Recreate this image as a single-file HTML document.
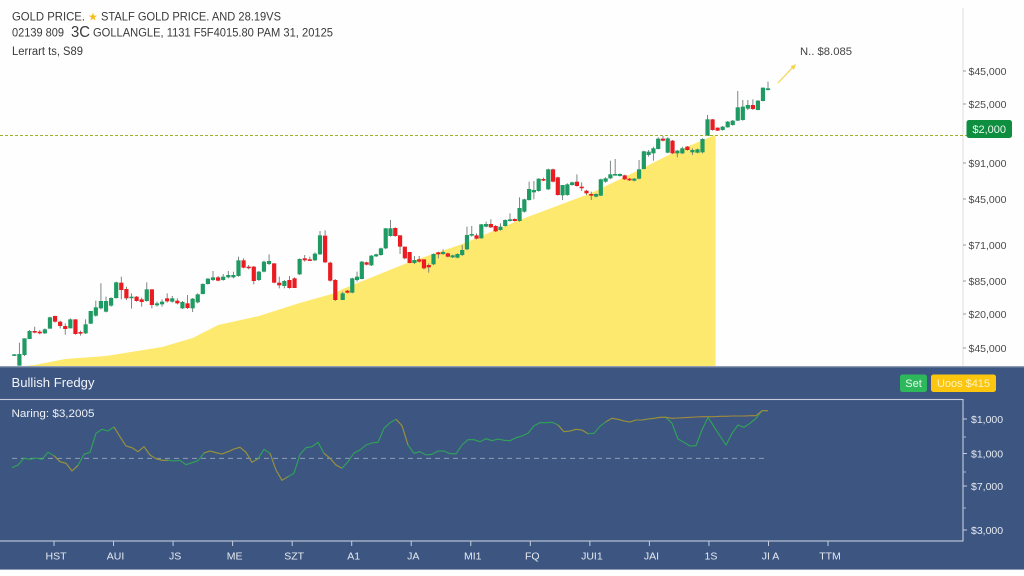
<!DOCTYPE html>
<html lang="en">
<head>
<meta charset="utf-8">
<title>Gold price chart</title>
<style>
html,body{margin:0;padding:0;background:#fff;width:1024px;height:576px;overflow:hidden}
svg{display:block;font-family:"Liberation Sans",sans-serif;filter:blur(0.35px)}
</style>
</head>
<body>
<svg id="chart" width="1024" height="576" viewBox="0 0 1024 576" xmlns="http://www.w3.org/2000/svg">
  <rect x="0" y="0" width="1024" height="576" fill="#fefefe"/>
  <g id="area-layer"></g>
  <line x1="963" y1="8" x2="963" y2="366" stroke="#dedede" stroke-width="1"/>
  <g id="candle-layer"></g>
  <g id="price-level-layer"></g>
  <g id="price-axis-layer"></g>

  <g fill="#3a3a3a">
    <text x="12" y="20.5" font-size="12" textLength="73" lengthAdjust="spacingAndGlyphs">GOLD PRICE.</text>
    <text x="88" y="20.5" font-size="11" fill="#f7bd16" font-family="'DejaVu Sans',sans-serif">★</text>
    <text x="101" y="20.5" font-size="12" textLength="180" lengthAdjust="spacingAndGlyphs">STALF GOLD PRICE. AND 28.19VS</text>
    <text x="12" y="36.5" font-size="11.5" textLength="52" lengthAdjust="spacingAndGlyphs">02139 809</text>
    <text x="71" y="37" font-size="15.5" textLength="19" lengthAdjust="spacingAndGlyphs">3C</text>
    <text x="93" y="36.5" font-size="11.5" textLength="240" lengthAdjust="spacingAndGlyphs">GOLLANGLE, 1131 F5F4015.80 PAM 31, 20125</text>
    <text x="12" y="55" font-size="11.5" textLength="71" lengthAdjust="spacingAndGlyphs">Lerrart ts, S89</text>
  </g>

  <g>
    <text x="800" y="55" font-size="11" fill="#444" textLength="52" lengthAdjust="spacingAndGlyphs">N.. $8.085</text>
    <line x1="778" y1="83" x2="794" y2="66" stroke="#f4d54a" stroke-width="1.2"/>
    <polygon points="796,64 790.5,66.5 794,70" fill="#f4d54a"/>
  </g>

  <rect x="0" y="367" width="1024" height="202" fill="#3d5681"/>
  <rect x="0" y="366" width="1024" height="1.4" fill="#8d9cb4"/>
  <rect x="0" y="569" width="1024" height="1" fill="#8d9cb4"/>
  <text x="11.5" y="387" font-size="12.5" fill="#f2f4f8" textLength="83" lengthAdjust="spacingAndGlyphs">Bullish Fredgy</text>
  <g>
    <rect x="900" y="374.5" width="27" height="17.5" rx="2.5" fill="#2eb85c"/>
    <text x="913.5" y="387" font-size="11" fill="#e8f8ee" text-anchor="middle">Set</text>
  </g>
  <g>
    <rect x="931" y="374.5" width="65" height="17.5" rx="2.5" fill="#fcc60e"/>
    <text x="963.5" y="387" font-size="11" fill="#fff3c0" text-anchor="middle" textLength="53" lengthAdjust="spacingAndGlyphs">Uoos $415</text>
  </g>
  <rect x="-2" y="399.5" width="965" height="141.5" fill="none" stroke="#c6cedb" stroke-width="1.1"/>
  <text x="11.5" y="417" font-size="11" fill="#eef1f6" textLength="83" lengthAdjust="spacingAndGlyphs">Naring: $3,2005</text>
  <g id="indicator-layer"></g>
  <g id="indicator-axis-layer"></g>
  <g id="time-axis-layer"></g>
</svg>

<script>
// Candlestick series
const opens = [33,1,33,81,105,103,98,112,150,133,120,113,140,102,98,127,151,173,163,181,204,250,231,204,208,200,195,230,182,185,203,193,196,173,188,173,191,216,246,258,266,258,266,266,270,317,298,298,258,283,306,308,250,240,258,263,275,323,320,317,335,391,310,258,
  198,226,220,258,261,311,302,329,333,353,390,414,392,358,342,309,320,320,303,305,341,336,338,326,325,333,350,392,392,383,418,426,420,408,420,435,441,435,463,498,521,525,561,530,590,566,512,513,543,553,538,526,516,508,511,553,563,573,570,572,562,556,562,591,633,638,651,682,640,676,638,
  638,658,641,640,641,690,740,715,708,716,723,736,738,772,783,768,795,828];
const closes = [35,36,83,105,101,98,110,146,133,120,111,140,96,98,125,165,176,195,195,204,251,228,203,208,195,192,230,183,188,193,194,203,188,192,174,202,215,246,262,266,256,268,273,273,317,295,294,255,283,313,315,250,242,255,234,234,321,317,318,337,392,311,256,198,
  218,220,263,268,313,304,331,335,353,413,413,390,358,323,309,318,313,293,296,336,335,342,328,332,336,348,393,396,382,425,426,416,404,418,438,440,435,474,500,531,528,562,558,590,553,513,543,545,551,540,536,518,511,516,560,563,575,576,576,560,557,562,590,644,643,653,682,676,683,638,646,
  653,648,648,650,681,740,708,706,718,733,736,776,778,783,771,796,835,833];
const highs = [36,70,83,108,118,108,113,148,151,136,128,143,140,106,140,165,196,248,208,206,253,268,238,218,210,205,251,230,193,200,218,210,203,195,213,204,218,248,264,285,270,276,285,283,328,323,303,300,285,316,335,308,268,258,270,266,323,333,328,341,405,407,313,261,
  223,228,265,283,315,313,333,337,355,414,438,416,392,358,342,330,330,320,308,338,343,350,340,334,338,363,418,420,398,426,433,440,423,428,440,458,443,506,502,553,555,563,565,592,592,568,543,548,553,575,551,528,523,518,562,566,616,621,578,574,564,564,618,646,648,658,686,690,686,678,648,
  658,660,653,652,683,753,741,716,720,735,738,825,798,798,800,798,836,853];
const lows = [31,1,30,81,98,95,96,112,130,113,94,113,94,91,96,126,148,170,161,178,202,200,198,172,193,178,193,173,178,178,190,190,185,171,171,162,188,215,244,255,254,256,263,263,268,293,290,245,255,281,303,248,233,233,232,234,273,313,315,315,333,309,253,195,
  198,218,218,253,260,302,300,327,331,351,388,388,336,320,308,306,310,290,280,303,323,333,326,324,323,330,348,388,380,382,416,414,402,406,418,433,433,433,460,496,500,523,555,528,551,511,498,511,541,538,525,513,498,506,510,550,561,571,568,558,555,554,560,590,628,616,650,674,638,636,626,
  636,646,633,638,638,690,706,705,706,715,721,735,736,768,768,767,794,826];

// Piecewise session axis: trading index -> chart position
const sessionDomain = [0,63,64,134,152];
const sessionRange = [14.3,335.3,342.7,677.3,768];

// Yellow area series
const areaSessions = [2,4,10,18,29,35,40,48,56,63,64,78,89,101,116,126,133,141,141.6];
const areaValues = [0,3,21,30,57,84,123,150,189,219,231,312,366,438,519,588,639,690,693];

// Price axis
const priceTickValues = [885,786,609,501,363,255,156,54];
const priceTickLabels = ["$45,000","$25,000","$91,000","$45,000","$71,000","$85,000","$20,000","$45,000"];
const levelValue = 691.5;
const levelBadgeValue = 711;
const levelBadgeLabel = "$2,000";

// Indicator series (one reading per period)
const indicatorValues = [220,228,248,245,249,245,266,256,238,233,210,227,260,266,323,335,330,342,313,285,280,268,283,258,247,242,242,240,242,229,235,241,264,270,265,261,268,276,281,266,236,247,275,263,213,182,193,203,260,280,283,296,263,248,228,218,238,264,273,288,294,296,338,355,365,346,288,263,268,258,260,270,270,262,262,288,304,304,298,307,301,306,302,301,310,315,323,346,355,355,356,348,328,330,335,333,322,323,344,358,368,365,360,357,363,363,366,368,371,371,353,306,296,285,286,333,371,343,315,288,323,348,341,353,368,391,391];
const signalValues = [null,null,null,null,null,null,null,256,238,233,210,227,null,null,null,null,null,342,313,285,280,268,283,258,247,242,242,null,null,null,null,null,264,270,265,261,268,276,281,266,236,247,null,263,213,182,193,null,null,null,null,null,263,248,228,218,null,null,null,null,null,null,null,null,365,346,288,null,null,null,null,null,null,null,null,null,null,null,null,null,null,null,null,null,null,null,null,null,null,null,null,348,328,330,335,333,322,null,null,358,368,365,360,357,363,363,366,368,371,371,368,369,370,371,372,373,373,373,374,374,375,375,375,376,376,391,391];
const indicatorBaseline = 248;
const indicatorTickValues = [366,262.5,165,33];
const indicatorTickLabels = ["$1,000","$1,000","$7,000","$3,000"];
const indicatorMinorTicks = [312,207,99];

// Time axis
const timeLabels = ["HST","AUI","JS","ME","SZT","A1","JA","MI1","FQ","JUI1","JAI","1S","JI A","TTM"];

const NS = "http://www.w3.org/2000/svg";
function make(tag, attrs, parent) {
  const node = document.createElementNS(NS, tag);
  for (const key in attrs) node.setAttribute(key, attrs[key]);
  parent.appendChild(node);
  return node;
}
function sessionX(i) {
  let s = 0;
  while (s < sessionDomain.length - 2 && i > sessionDomain[s + 1]) s++;
  const t = (i - sessionDomain[s]) / (sessionDomain[s + 1] - sessionDomain[s]);
  return sessionRange[s] + t * (sessionRange[s + 1] - sessionRange[s]);
}
function priceY(v) { return 366 - v / 3; }
function indicatorX(i) { return 12 + i * 6; }
function indicatorY(v) { return 541 - v / 3; }
function timeX(i) { return 54 + i * 59.54; }

// Area
const areaLayer = document.getElementById("area-layer");
let areaPath = "M" + sessionX(areaSessions[0]) + " " + priceY(0);
areaValues.forEach(function (v, i) {
  areaPath += "L" + sessionX(areaSessions[i]).toFixed(1) + " " + priceY(v).toFixed(1);
});
areaPath += "L" + sessionX(areaSessions[areaSessions.length - 1]).toFixed(1) + " " + priceY(0) + "Z";
const areaShape = make("path", { d: areaPath, fill: "#fee96f" }, areaLayer);



// Candles
const candleLayer = document.getElementById("candle-layer");
opens.forEach(function (o, i) {
  const c = closes[i];
  const up = c >= o;
  const x = sessionX(i);
  const color = up ? "#1f9a63" : "#ea1c22";
  const g = make("g", {}, candleLayer);
  
  
  const wick = make("line", { x1: x, x2: x, y1: priceY(highs[i]), y2: priceY(lows[i]), stroke: "#6f7a76", "stroke-width": 0.9 }, g);
  
  
  const top = priceY(Math.max(o, c));
  const h = Math.max(priceY(Math.min(o, c)) - top, 1.6);
  const body = make("rect", { x: x - 2.1, y: top, width: 4.2, height: h, fill: color }, g);
  
  
});

// Price level
const levelLayer = document.getElementById("price-level-layer");
const levelLine = make("line", { x1: 0, x2: 968, y1: priceY(levelValue), y2: priceY(levelValue), stroke: "#9fb02a", "stroke-width": 1, "stroke-dasharray": "3 2" }, levelLayer);


const badgeY = priceY(levelBadgeValue);
const badge = make("rect", { x: 966.5, y: badgeY - 9, width: 45.5, height: 18, rx: 2.5, fill: "#0e8f40" }, levelLayer);


const badgeText = make("text", { x: 989.2, y: badgeY + 4, "font-size": 11, fill: "#e9f7ee", "text-anchor": "middle" }, levelLayer);
badgeText.textContent = levelBadgeLabel;



// Price axis
const priceAxis = document.getElementById("price-axis-layer");
priceTickValues.forEach(function (v, i) {
  const y = priceY(v);
  const tick = make("line", { x1: 963, x2: 966, y1: y, y2: y, stroke: "#9a9a9a", "stroke-width": 1 }, priceAxis);
  
  
  const label = make("text", { x: 968.5, y: y + 3.8, "font-size": 10.5, fill: "#4a4a4a" }, priceAxis);
  label.textContent = priceTickLabels[i];
  
  
});

// Indicator lines
const indicatorLayer = document.getElementById("indicator-layer");
const baseline = make("line", { x1: 12, x2: 767, y1: indicatorY(indicatorBaseline), y2: indicatorY(indicatorBaseline), stroke: "#8f9db5", "stroke-width": 1, "stroke-dasharray": "5 4" }, indicatorLayer);


let greenPath = "";
indicatorValues.forEach(function (v, i) {
  greenPath += (i ? "L" : "M") + indicatorX(i) + " " + indicatorY(v).toFixed(1);
});
const greenLine = make("path", { d: greenPath, fill: "none", stroke: "#2fa457", "stroke-width": 1.1, "stroke-linejoin": "round" }, indicatorLayer);


let signalPath = "";
let penDown = false;
signalValues.forEach(function (v, i) {
  if (v === null) { penDown = false; return; }
  signalPath += (penDown ? "L" : "M") + indicatorX(i) + " " + indicatorY(v).toFixed(1);
  penDown = true;
});
const signalLine = make("path", { d: signalPath, fill: "none", stroke: "#a08a3c", "stroke-width": 1.1, "stroke-linejoin": "round" }, indicatorLayer);



// Indicator axis
const indicatorAxis = document.getElementById("indicator-axis-layer");
indicatorTickValues.forEach(function (v, i) {
  const y = indicatorY(v);
  const tick = make("line", { x1: 963, x2: 967, y1: y, y2: y, stroke: "#c6cedb", "stroke-width": 1 }, indicatorAxis);
  
  
  const label = make("text", { x: 971, y: y + 3.8, "font-size": 10.5, fill: "#e6eaf1" }, indicatorAxis);
  label.textContent = indicatorTickLabels[i];
  
  
});
indicatorMinorTicks.forEach(function (v) {
  const y = indicatorY(v);
  const tick = make("line", { x1: 963, x2: 966, y1: y, y2: y, stroke: "#aab5c8", "stroke-width": 1 }, indicatorAxis);
  
  
});

// Time axis
const timeAxis = document.getElementById("time-axis-layer");
timeLabels.forEach(function (name, i) {
  const x = timeX(i);
  const tick = make("line", { x1: x, x2: x, y1: 541, y2: 546, stroke: "#c6cedb", "stroke-width": 1 }, timeAxis);
  
  
  const label = make("text", { x: x + 2, y: 559.5, "font-size": 10.5, fill: "#e6eaf1", "text-anchor": "middle" }, timeAxis);
  label.textContent = name;
  
  
});
</script>
</body>
</html>
